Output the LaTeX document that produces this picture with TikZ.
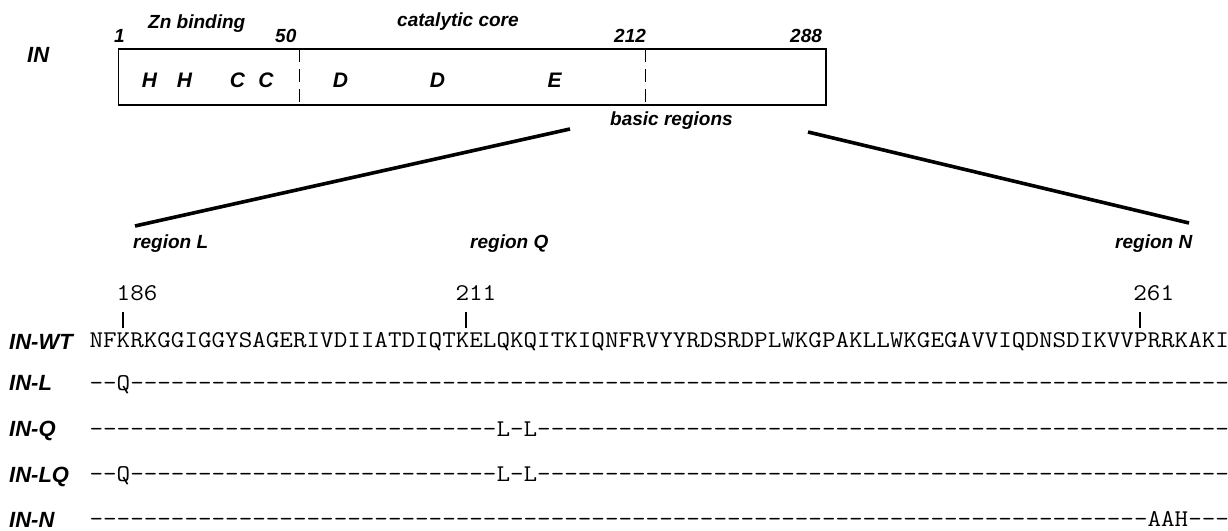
\documentclass[tikz,border=0pt]{standalone}
\usepackage{fontspec}
\usepackage{graphicx}
\newfontfamily\labfont{Liberation Sans}
\newfontfamily\seqfont[Ligatures=TeXOff]{Latin Modern Mono}
\ExplSyntaxOn
\NewDocumentCommand\dashes{m}{\prg_replicate:nn{#1}{-}}
\ExplSyntaxOff
\newcommand\sqtext[1]{\scalebox{1.0974}[1]{#1}}
\tikzset{
  lab/.style={inner sep=0pt, anchor=base west, font=\labfont\bfseries\itshape\fontsize{19}{21}\selectfont},
  biglab/.style={inner sep=0pt, anchor=base west, font=\labfont\bfseries\itshape\fontsize{22}{24}\selectfont},
  res/.style={inner sep=0pt, anchor=base, font=\labfont\bfseries\itshape\fontsize{21}{23}\selectfont},
  seq/.style={inner sep=0pt, anchor=base west, font=\seqfont\fontsize{24}{26}\selectfont},
  tick/.style={line width=1.8pt},
  zoomline/.style={line width=3.6pt},
  divider/.style={line width=1.1pt, dash pattern=on 13pt off 7pt},
}
\begin{document}
\begin{tikzpicture}[x=1pt,y=-1pt]
\useasboundingbox (0,0) rectangle (1228,530);
% domain box
\node[draw, line width=1.2pt, minimum width=707.3pt, minimum height=56pt, inner sep=0pt] (box) at (472.35,77) {};
\coordinate (d1t) at (299.7,49); \coordinate (d1b) at (299.7,105);
\coordinate (d2t) at (645.7,49); \coordinate (d2b) at (645.7,105);
\draw[divider] (d1t) -- (d1b);
\draw[divider] (d2t) -- (d2b);
\node[biglab] (inlab) at (27,62) {IN};
\node[lab] (n1) at (114,42) {1};
\node[lab] (n50) at (275,42) {50};
\node[lab] (n212) at (614,42) {212};
\node[lab] (n288) at (790,42) {288};
\node[lab] (zn) at (148,28) {Zn binding};
\node[lab] (cat) at (397,27) {catalytic core};
\node[lab] (basic) at (610,125) {basic regions};
\node[res] (h1) at (149.5,87) {H};
\node[res] (h2) at (184.5,87) {H};
\node[res] (c1) at (237.5,87) {C};
\node[res] (c2) at (266,87) {C};
\node[res] (dd1) at (340.5,87) {D};
\node[res] (dd2) at (437.5,87) {D};
\node[res] (e1) at (554.5,87) {E};
% zoom lines
\coordinate (zl1) at (570,129); \coordinate (zl2) at (135,226);
\coordinate (zr1) at (808,132); \coordinate (zr2) at (1189,223);
\draw[zoomline] (zl1) -- (zl2);
\draw[zoomline] (zr1) -- (zr2);
\node[lab] (rL) at (133,248) {region L};
\node[lab] (rQ) at (470,248) {region Q};
\node[lab] (rN) at (1115,248) {region N};
% position numbers and ticks
\node[seq] (p186) at (116.5,300) {\sqtext{186}};
\node[seq] (p211) at (455.4,300) {\sqtext{211}};
\node[seq] (p261) at (1133.2,300) {\sqtext{261}};
\coordinate (t1a) at (123.3,312); \coordinate (t1b) at (123.3,328);
\coordinate (t2a) at (465.7,312); \coordinate (t2b) at (465.7,328);
\coordinate (t3a) at (1140,312); \coordinate (t3b) at (1140,328);
\draw[tick] (t1a) -- (t1b);
\draw[tick] (t2a) -- (t2b);
\draw[tick] (t3a) -- (t3b);
% row labels
\node[biglab] (lwt) at (9,349) {IN-WT};
\node[biglab] (ll) at (9,390) {IN-L};
\node[biglab] (lq) at (9,436) {IN-Q};
\node[biglab] (llq) at (9,482) {IN-LQ};
\node[biglab] (ln) at (9,527) {IN-N};
% sequences
\node[seq] (swt) at (89.4,347) {\sqtext{NFKRKGGIGGYSAGERIVDIIATDIQTKELQKQITKIQNFRVYYRDSRDPLWKGPAKLLWKGEGAVVIQDNSDIKVVPRRKAKI}};
\node[seq] (sl) at (89.4,390) {\sqtext{--Q\dashes{81}}};
\node[seq] (sq) at (89.4,436) {\sqtext{\dashes{30}L-L\dashes{51}}};
\node[seq] (slq) at (89.4,481) {\sqtext{--Q\dashes{27}L-L\dashes{51}}};
\node[seq] (sn) at (89.4,526) {\sqtext{\dashes{78}AAH---}};
\end{tikzpicture}
\end{document}
